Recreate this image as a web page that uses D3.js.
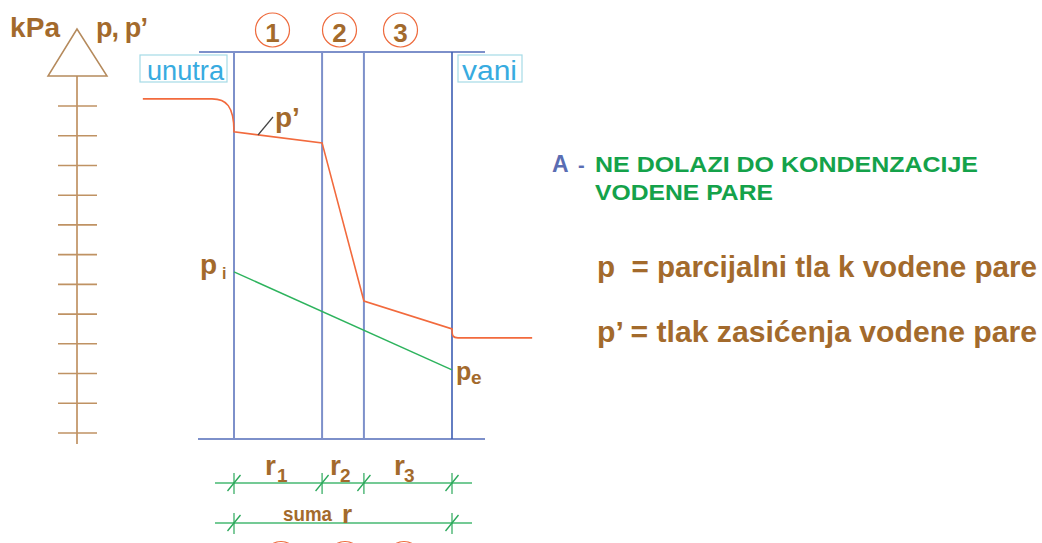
<!DOCTYPE html>
<html><head><meta charset="utf-8">
<script src="https://cdn.jsdelivr.net/npm/d3@7"></script>
<style>body{margin:0;background:#fff}svg{display:block}text{font-family:"Liberation Sans",Arial,sans-serif}</style>
</head><body><svg id="c" width="1042" height="543"></svg>
<script>
// ---- data ----
const tickValues = [0,1,2,3,4,5,6,7,8,9,10,11];
const layerNames = ["1","2","3"];
const layerR = [2.0, 0.95, 2.0];              // relative vapour resistances r1, r2, r3
const rLabels = ["1","2","3"];
const insideX = -2.07, outsideX = 6.77;       // extent of inside / outside air
const pSatInside = 11.24;                     // p' inside air
const pSatWalls = [10.13, 9.76, 4.44, 3.50];  // p' at layer boundaries
const pSatOutside = 3.20;                     // p' outside air
const pInside = 5.42, pOutside = 2.12;        // p_i, p_e
const legendLines = ["p  = parcijalni tla k vodene pare", "p\u2019 = tlak zasi\u0107enja vodene pare"];

// ---- scales ----
const bounds = [0]; layerR.forEach(r => bounds.push(bounds[bounds.length-1] + r));
const sumR = bounds[bounds.length-1];
const x = d3.scaleLinear().domain([0, sumR]).range([234, 452]);
const y = d3.scaleLinear().domain([0, 11]).range([433, 106]);

const svg = d3.select("#c");
const BROWN = "#a36a2c", RED = "#f26a3d", GREEN = "#2db35d", BLUE = "#7d90ca", DGREEN = "#14a24a";

// ---- vertical pressure axis ----
const ax = svg.append("g");
ax.append("line").attr("x1",77).attr("x2",77).attr("y1",76).attr("y2",444)
  .attr("stroke","#c9a27a").attr("stroke-width",2);
ax.selectAll("line.t").data(tickValues).join("line").attr("class","t")
  .attr("x1",58).attr("x2",97).attr("y1",d=>y(d)).attr("y2",d=>y(d))
  .attr("stroke","#bf9263").attr("stroke-width",1.6);
ax.append("path").attr("d","M77,29 L48,76 L107,76 Z").attr("fill","#fff")
  .attr("stroke","#b58a5c").attr("stroke-width",1.5);
ax.append("text").attr("x",10).attr("y",37).attr("font-size",28).attr("font-weight","bold")
  .attr("fill",BROWN).attr("textLength",50).text("kPa");
ax.append("text").attr("x",96).attr("y",37).attr("font-size",27).attr("font-weight","bold")
  .attr("fill",BROWN).attr("textLength",52).text("p, p\u2019");

// ---- frame ----
svg.append("line").attr("x1",199).attr("x2",485).attr("y1",52).attr("y2",52).attr("stroke",BLUE).attr("stroke-width",2);
svg.append("line").attr("x1",198).attr("x2",485).attr("y1",439).attr("y2",439).attr("stroke",BLUE).attr("stroke-width",2);
svg.selectAll("line.w").data(bounds).join("line").attr("class","w")
  .attr("x1",d=>x(d)).attr("x2",d=>x(d)).attr("y1",52).attr("y2",439)
  .attr("stroke",(d,i)=> i===bounds.length-1 ? "#3d5db3" : BLUE)
  .attr("stroke-width",(d,i)=> i===bounds.length-1 ? 1.6 : 2);

// layer number circles
const circX = [272.5, 339.5, 400.5];
const cg = svg.selectAll("g.cn").data(layerNames).join("g").attr("class","cn");
cg.append("circle").attr("cx",(d,i)=>circX[i]).attr("cy",30).attr("r",17)
  .attr("fill","none").attr("stroke","#ee6a3c").attr("stroke-width",1.2);
cg.append("text").attr("x",(d,i)=>circX[i]).attr("y",42).attr("text-anchor","middle")
  .attr("font-size",26).attr("font-weight","bold").attr("fill",BROWN).text(d=>d);
// cut-off circles at the bottom
svg.selectAll("circle.bc").data(layerNames).join("circle").attr("class","bc")
  .attr("cx",(d,i)=>[281,345,404][i]).attr("cy",558.5).attr("r",17)
  .attr("fill","none").attr("stroke","#ee6a3c").attr("stroke-width",1.2);

// inside / outside labels
[["unutra",140,87,147,77],["vani",458,64,462,55]].forEach(([t,bx,bw,tx,tl])=>{
  svg.append("rect").attr("x",bx).attr("y",55).attr("width",bw).attr("height",27)
    .attr("fill","none").attr("stroke","#a5dbe6").attr("stroke-width",1.2);
  svg.append("text").attr("x",tx).attr("y",80).attr("font-size",27).attr("fill","#38abe0")
    .attr("textLength",tl).attr("lengthAdjust","spacingAndGlyphs").text(t);
});

// ---- saturation pressure p' ----
const pp = d3.path();
const x0 = x(0), yIn = y(pSatInside);
pp.moveTo(x(insideX), yIn);
pp.lineTo(x0 - 22, yIn);
pp.bezierCurveTo(x0 - 8, yIn, x0, yIn + 7, x0, y(pSatWalls[0]));
bounds.forEach((b,i)=>{ if(i>0) pp.lineTo(x(b), y(pSatWalls[i])); });
const xe = x(sumR), yLast = y(pSatWalls[pSatWalls.length-1]), yOut = y(pSatOutside);
pp.bezierCurveTo(xe, yLast + 7, xe + 1, yOut, xe + 6, yOut);
pp.lineTo(x(outsideX), yOut);
svg.append("path").attr("d",pp.toString()).attr("fill","none").attr("stroke",RED).attr("stroke-width",1.6);

// leader + label p'
svg.append("line").attr("x1",258).attr("y1",135).attr("x2",273).attr("y2",117).attr("stroke","#444").attr("stroke-width",1.2);
svg.append("text").attr("x",275).attr("y",127).attr("font-size",28).attr("font-weight","bold").attr("fill",BROWN).text("p\u2019");

// ---- partial pressure p ----
svg.append("path").attr("d", d3.line()([[x(0), y(pInside)], [x(sumR), y(pOutside)]]))
  .attr("fill","none").attr("stroke",GREEN).attr("stroke-width",1.4);
const pi = svg.append("text").attr("x",200).attr("y",274).attr("font-size",28).attr("font-weight","bold").attr("fill",BROWN);
pi.append("tspan").text("p");
pi.append("tspan").attr("x",222).attr("y",279).attr("font-size",16).text("i");
const pe = svg.append("text").attr("x",456).attr("y",380).attr("font-size",25).attr("font-weight","bold").attr("fill",BROWN);
pe.append("tspan").text("p");
pe.append("tspan").attr("x",471).attr("y",384).attr("font-size",19).text("e");

// ---- dimension lines ----
function dimLine(yy, ticks){
  svg.append("line").attr("x1",215).attr("x2",472).attr("y1",yy).attr("y2",yy).attr("stroke","#46b872").attr("stroke-width",1.6);
  ticks.forEach(b=>{
    svg.append("line").attr("x1",x(b)).attr("x2",x(b)).attr("y1",yy-10).attr("y2",yy+11).attr("stroke","#2aa85a").attr("stroke-width",1.2);
    svg.append("line").attr("x1",x(b)-6.5).attr("x2",x(b)+6.5).attr("y1",yy+8).attr("y2",yy-8).attr("stroke","#2aa85a").attr("stroke-width",1.3);
  });
}
dimLine(483, bounds);
dimLine(523, [0, sumR]);
const rX = [265, 330, 394], subX = [277, 340, 404];
rLabels.forEach((s,i)=>{
  const t = svg.append("text").attr("x",rX[i]).attr("y",475).attr("font-size",28).attr("font-weight","bold").attr("fill",BROWN);
  t.append("tspan").text("r");
  t.append("tspan").attr("x",subX[i]).attr("y",482).attr("font-size",19).text(s);
});
svg.append("text").attr("x",283).attr("y",521).attr("font-size",20).attr("font-weight","bold").attr("fill",BROWN)
  .attr("textLength",49).attr("lengthAdjust","spacingAndGlyphs").text("suma");
svg.append("text").attr("x",342).attr("y",523).attr("font-size",26).attr("font-weight","bold").attr("fill",BROWN).text("r");

// ---- right-hand notes ----
svg.append("text").attr("x",552).attr("y",172).attr("font-size",23).attr("font-weight","bold").attr("fill","#5a6db3").text("A");
svg.append("text").attr("x",578).attr("y",172).attr("font-size",20).attr("font-weight","bold").attr("fill","#5a6db3").text("-");
svg.append("text").attr("x",595).attr("y",172).attr("font-size",22.5).attr("font-weight","bold").attr("fill",DGREEN)
  .attr("textLength",383).attr("lengthAdjust","spacingAndGlyphs").text("NE DOLAZI DO KONDENZACIJE");
svg.append("text").attr("x",595).attr("y",200).attr("font-size",22.5).attr("font-weight","bold").attr("fill",DGREEN)
  .attr("textLength",178).attr("lengthAdjust","spacingAndGlyphs").text("VODENE PARE");
svg.selectAll("text.lg").data(legendLines).join("text").attr("class","lg")
  .attr("x",597).attr("y",(d,i)=> i===0 ? 277 : 342).attr("font-size",29).attr("font-weight","bold")
  .attr("fill",BROWN).attr("textLength",440).attr("lengthAdjust","spacingAndGlyphs")
  .style("white-space","pre").text(d=>d);
</script></body></html>
